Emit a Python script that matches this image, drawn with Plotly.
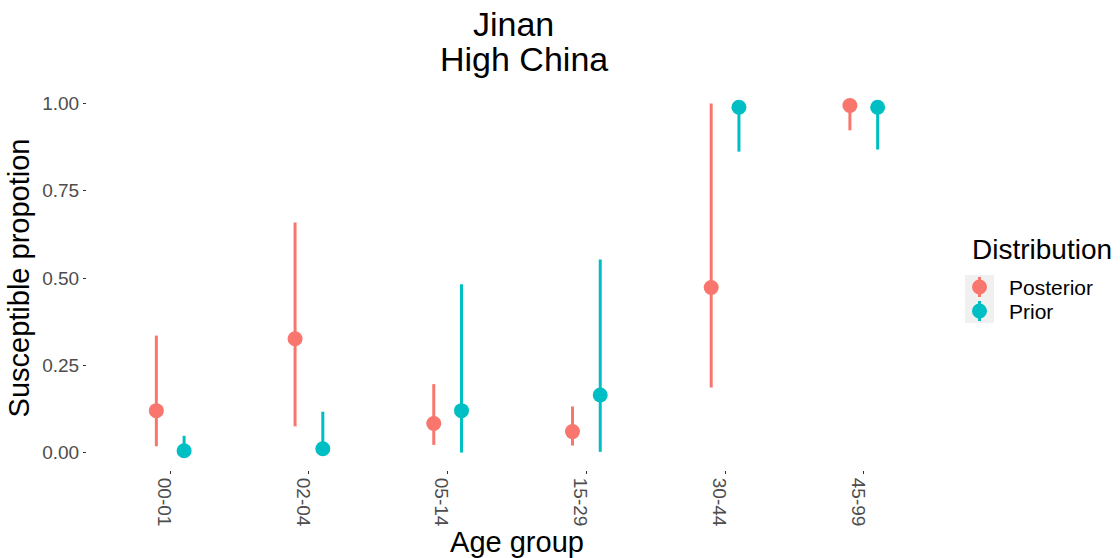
import plotly.graph_objects as go

# Age groups on the x axis
age_groups = ["00-01", "02-04", "05-14", "15-29", "30-44", "45-99"]

# Susceptible proportion: point estimate with lower / upper interval bounds
posterior_mid = [0.120, 0.326, 0.083, 0.060, 0.473, 0.994]
posterior_low = [0.018, 0.075, 0.022, 0.020, 0.186, 0.923]
posterior_high = [0.335, 0.659, 0.196, 0.132, 1.000, 1.000]

prior_mid = [0.005, 0.011, 0.120, 0.165, 0.989, 0.989]
prior_low = [0.000, 0.000, 0.000, 0.002, 0.862, 0.868]
prior_high = [0.048, 0.117, 0.482, 0.553, 1.000, 1.000]

series_names = ["Posterior", "Prior"]
series_colors = ["#F8766D", "#00BFC4"]

FONT = "Liberation Sans, Arial, sans-serif"
DODGE = 0.1

# Figure geometry (pixels)
W, H = 1120, 558
M_L, M_R, M_T, M_B = 87, 173, 86, 88
PLOT_W = W - M_L - M_R
PLOT_H = H - M_T - M_B

positions = list(range(1, len(age_groups) + 1))


def px_x(px):
    """Horizontal pixel position -> paper coordinate."""
    return (px - M_L) / PLOT_W


def px_y(py):
    """Vertical pixel position (from top) -> paper coordinate."""
    return (H - M_B - py) / PLOT_H


def pointrange(name, mids, lows, highs, color, shift):
    return go.Scatter(
        x=[p + shift for p in positions],
        y=mids,
        mode="markers",
        name=name,
        showlegend=False,
        marker=dict(color=color, size=15, line=dict(width=0)),
        error_y=dict(
            type="data",
            symmetric=False,
            array=[h - m for h, m in zip(highs, mids)],
            arrayminus=[m - l for m, l in zip(mids, lows)],
            color=color,
            thickness=3,
            width=0,
        ),
    )


fig = go.Figure()
fig.add_trace(pointrange(series_names[0], posterior_mid, posterior_low, posterior_high, series_colors[0], -DODGE))
fig.add_trace(pointrange(series_names[1], prior_mid, prior_low, prior_high, series_colors[1], DODGE))

annotations = []
shapes = []

# Two-line title centred over the panel
annotations.append(dict(text="Jinan", x=px_x(513), y=px_y(24), xref="paper", yref="paper",
                        xanchor="center", yanchor="middle", showarrow=False,
                        font=dict(size=34, color="black", family=FONT)))
annotations.append(dict(text="High China", x=px_x(524), y=px_y(59), xref="paper", yref="paper",
                        xanchor="center", yanchor="middle", showarrow=False,
                        font=dict(size=34, color="black", family=FONT)))

# Legend: title, grey key boxes with a point-range glyph, and labels
annotations.append(dict(text="Distribution", x=px_x(970), y=px_y(249), xref="paper", yref="paper",
                        xanchor="left", yanchor="middle", showarrow=False,
                        font=dict(size=28, color="black", family=FONT)))
KEY_L, KEY_R, KEY_TOP, KEY_H = 965, 994, 275, 24
for i, (name, color) in enumerate(zip(series_names, series_colors)):
    top = KEY_TOP + i * KEY_H
    bot = top + KEY_H
    cx = (KEY_L + KEY_R) / 2
    cy = (top + bot) / 2
    shapes.append(dict(type="rect", xref="paper", yref="paper",
                       x0=px_x(KEY_L), x1=px_x(KEY_R), y0=px_y(bot), y1=px_y(top),
                       fillcolor="#F0F0F0", line=dict(width=0), layer="below"))
    shapes.append(dict(type="line", xref="paper", yref="paper",
                       x0=px_x(cx), x1=px_x(cx), y0=px_y(bot - 2), y1=px_y(top + 2),
                       line=dict(color=color, width=3), layer="above"))
    shapes.append(dict(type="circle", xref="paper", yref="paper",
                       x0=px_x(cx - 7.5), x1=px_x(cx + 7.5), y0=px_y(cy + 7.5), y1=px_y(cy - 7.5),
                       fillcolor=color, line=dict(width=0), layer="above"))
    annotations.append(dict(text=name, x=px_x(1007), y=px_y(cy), xref="paper", yref="paper",
                            xanchor="left", yanchor="middle", showarrow=False,
                            font=dict(size=21, color="black", family=FONT)))

fig.update_layout(
    width=W,
    height=H,
    margin=dict(l=M_L, r=M_R, t=M_T, b=M_B, autoexpand=False),
    paper_bgcolor="white",
    plot_bgcolor="white",
    font=dict(family=FONT, color="black"),
    showlegend=False,
    annotations=annotations,
    shapes=shapes,
)

fig.update_xaxes(
    range=[0.4, 6.6],
    tickmode="array",
    tickvals=positions,
    ticktext=age_groups,
    tickangle=90,
    ticklabelshift=-6,
    ticks="outside",
    ticklen=3,
    tickwidth=1,
    tickcolor="#333333",
    tickfont=dict(size=19, color="#4d4d4d"),
    showgrid=False,
    zeroline=False,
    showline=False,
    title=dict(text="Age group", font=dict(size=29, color="black"), standoff=4),
)

fig.update_yaxes(
    range=[-0.05, 1.05],
    tickmode="array",
    tickvals=[0, 0.25, 0.5, 0.75, 1.0],
    ticktext=["0.00", "0.25", "0.50", "0.75", "1.00"],
    ticks="outside",
    ticklen=3,
    tickwidth=1,
    tickcolor="#333333",
    tickfont=dict(size=19, color="#4d4d4d"),
    showgrid=False,
    zeroline=False,
    showline=False,
    title=dict(text="Susceptible propotion", font=dict(size=29, color="black"), standoff=4),
)

fig.write_html("out.html")
